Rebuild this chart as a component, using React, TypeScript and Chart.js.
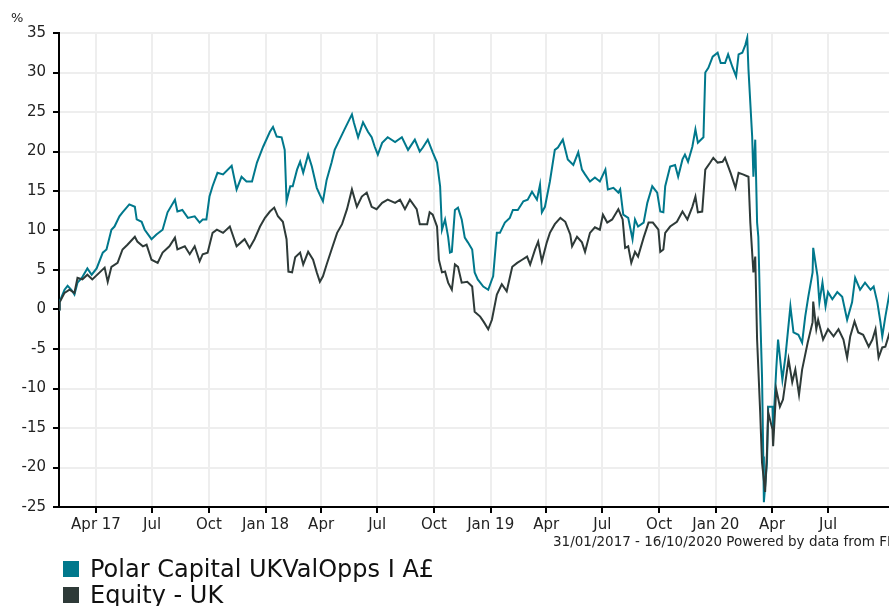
import React, { useEffect, useRef } from "react";
import { Chart, registerables } from "chart.js";

Chart.register(...registerables);

const START_DATE = "2017-01-31";
const END_DATE = "2020-10-16";

const tickDates = [
  "2017-04-01", "2017-07-01", "2017-10-01", "2018-01-01", "2018-04-01", "2018-07-01", "2018-10-01",
  "2019-01-01", "2019-04-01", "2019-07-01", "2019-10-01", "2020-01-01", "2020-04-01", "2020-07-01",
];
const tickLabels = ["Apr 17", "Jul", "Oct", "Jan 18", "Apr", "Jul", "Oct", "Jan 19", "Apr", "Jul", "Oct", "Jan 20", "Apr", "Jul"];

const yTicks = [-25, -20, -15, -10, -5, 0, 5, 10, 15, 20, 25, 30, 35];

const seriesNames = ["Polar Capital UKValOpps I A£", "Equity - UK"];
const seriesColors = ["#00788C", "#2E3A38"];

// days since 31/01/2017
const polarDays = [
  0, 1, 9, 14, 20, 25, 30, 37, 46, 53, 61, 71, 77, 85, 90, 98, 103, 114, 123, 126, 134, 139, 150, 158, 168, 176, 188, 192, 200, 209,
  220, 228, 233, 239, 244, 249, 257, 266, 280, 288, 296, 304, 313, 321, 331, 342, 347, 353, 361, 366, 369, 375, 379, 386, 391, 396,
  404, 410, 418, 423, 428, 434, 442, 447, 455, 463, 475, 478, 485, 493, 501, 507, 512, 517, 524, 533, 545, 556, 566, 577, 585, 590,
  598, 606, 613, 618, 621, 626, 631, 634, 637, 642, 647, 653, 658, 663, 670, 674, 679, 688, 696, 702, 704, 710, 715, 723, 731, 736,
  744, 753, 760, 767, 775, 780, 783, 788, 796, 804, 809, 817, 825, 834, 842, 848, 853, 861, 869, 877, 886, 890, 899, 907, 910, 915,
  923, 930, 934, 939, 948, 954, 962, 970, 975, 980, 983, 991, 999, 1004, 1011, 1015, 1020, 1027, 1032, 1036, 1045, 1048, 1053, 1060,
  1068, 1073, 1080, 1085, 1092, 1098, 1102, 1108, 1113, 1116, 1118, 1124, 1126, 1129, 1132, 1134, 1137, 1140, 1142, 1143, 1148, 1150,
  1157, 1158, 1163, 1166, 1173, 1178, 1186, 1191, 1199, 1205, 1210, 1215, 1222, 1223, 1230, 1233, 1238, 1243, 1247, 1254, 1262, 1270,
  1278, 1286, 1291, 1299, 1307, 1316, 1321, 1327, 1332, 1335, 1340, 1347, 1354,
];
const polarValues = [
  0, 1.0, 2.5, 3.0, 2.5, 1.9, 3.4, 4.0, 5.2, 4.4, 5.2, 7.2, 7.6, 10.1, 10.5, 11.8, 12.3, 13.3, 13.0, 11.4, 11.1, 10.1, 8.9, 9.5, 10.1, 12.3, 13.9, 12.4, 12.6, 11.6,
  11.8, 11.0, 11.4, 11.4, 14.3, 15.6, 17.3, 17.1, 18.2, 15.2, 16.8, 16.2, 16.2, 18.6, 20.6, 22.5, 23.1, 21.9, 21.8, 20.2, 13.7, 15.6, 15.6, 17.7, 18.7, 17.3,
  19.6, 18.1, 15.4, 14.5, 13.7, 16.4, 18.6, 20.2, 21.5, 22.8, 24.7, 23.7, 21.8, 23.7, 22.5, 21.8, 20.6, 19.6, 21.1, 21.8, 21.2, 21.8, 20.2, 21.5, 20.0, 20.5,
  21.5, 19.9, 18.6, 15.6, 10.1, 11.4, 9.2, 7.2, 7.3, 12.6, 12.9, 11.4, 9.1, 8.5, 7.6, 4.7, 3.8, 2.9, 2.5, 3.8, 4.2, 9.7, 9.7, 11.0, 11.6, 12.6,
  12.6, 13.7, 13.9, 14.9, 13.9, 15.8, 12.3, 13.0, 16.2, 20.2, 20.5, 21.5, 19.0, 18.3, 19.9, 17.7, 17.1, 16.2, 16.7, 16.2, 17.7, 15.2, 15.4, 14.8, 15.2, 12.0,
  11.6, 8.9, 11.4, 10.5, 11.0, 13.5, 15.6, 14.8, 12.4, 12.3, 15.6, 18.1, 18.3, 16.8, 19.0, 19.6, 18.7, 20.6, 22.8, 21.1, 21.8, 30.0, 30.6, 32.0,
  32.5, 31.2, 31.2, 32.3, 30.7, 29.5, 32.3, 32.5, 33.5, 34.4, 30.4, 21.9, 16.8, 21.5, 11.0, 9.2, -0.4, -8.5, -18.6, -24.4, -19.4, -12.3,
  -12.3, -15.2, -7.6, -3.8, -8.9, -5.9, 0.4, -2.9, -3.2, -4.2, -0.9, 1.6, 4.7, 7.8, 4.2, 0.9, 3.4, 0.4, 2.2, 1.3, 2.2, 1.6,
  -1.3, 0.9, 4.0, 2.5, 3.4, 2.5, 2.9, 0.9, -1.6, -3.4, -0.9, 2.2, 2.5,
];

const equityDays = [
  0, 1, 9, 17, 25, 30, 38, 46, 54, 66, 74, 79, 85, 95, 103, 111, 123, 127, 136, 142, 150, 160, 168, 179, 188, 192, 204, 212, 220, 228,
  233, 241, 249, 256, 266, 277, 288, 301, 309, 317, 326, 334, 342, 349, 355, 363, 369, 372, 378, 383, 391, 396, 404, 412, 418, 423,
  428, 434, 442, 451, 459, 467, 475, 483, 491, 499, 507, 515, 524, 533, 545, 553, 561, 569, 580, 585, 597, 601, 606, 613, 616, 621,
  626, 631, 637, 642, 647, 653, 662, 670, 674, 683, 689, 696, 702, 710, 718, 726, 735, 743, 751, 759, 764, 772, 777, 783, 791, 796,
  804, 813, 821, 829, 832, 840, 848, 853, 861, 869, 877, 882, 889, 897, 907, 914, 918, 923, 928, 934, 939, 948, 956, 963, 972, 975,
  980, 983, 991, 1002, 1011, 1019, 1027, 1032, 1036, 1043, 1048, 1056, 1061, 1068, 1076, 1080, 1089, 1097, 1102, 1109, 1118, 1121,
  1126, 1129, 1132, 1137, 1140, 1145, 1148, 1150, 1157, 1158, 1163, 1169, 1174, 1183, 1189, 1194, 1200, 1205, 1214, 1222, 1223, 1228,
  1231, 1239, 1247, 1256, 1264, 1272, 1278, 1283, 1290, 1296, 1304, 1313, 1319, 1324, 1329, 1335, 1340, 1347, 1354,
];
const equityValues = [
  0, 0.9, 2.1, 2.5, 2.1, 4.0, 3.8, 4.4, 3.8, 4.7, 5.3, 3.5, 5.4, 5.9, 7.6, 8.2, 9.2, 8.6, 8.0, 8.2, 6.3, 5.9, 7.2, 8.0, 9.1, 7.6, 8.0, 7.0, 8.0, 6.1,
  7.0, 7.2, 9.7, 10.1, 9.7, 10.5, 8.0, 8.9, 7.8, 8.9, 10.5, 11.6, 12.4, 12.9, 11.8, 11.1, 8.9, 4.8, 4.7, 6.6, 7.2, 5.7, 7.3, 6.3, 4.7, 3.5,
  4.2, 5.7, 7.6, 9.7, 10.8, 12.7, 15.2, 13.0, 14.3, 14.8, 13.0, 12.7, 13.5, 13.9, 13.5, 13.9, 12.7, 13.9, 12.7, 10.8, 10.8, 12.3, 12.0, 10.5, 6.3, 4.7,
  4.8, 3.4, 2.5, 5.7, 5.4, 3.4, 3.5, 2.9, -0.3, -0.9, -1.6, -2.5, -1.3, 1.9, 3.2, 2.3, 5.4, 5.9, 6.3, 6.7, 5.7, 7.6, 8.6, 6.1, 8.5, 9.7,
  10.8, 11.6, 11.1, 9.5, 8.0, 9.2, 8.5, 7.3, 9.7, 10.4, 10.1, 12.0, 11.0, 11.4, 12.7, 11.4, 7.8, 8.0, 5.9, 7.3, 6.7, 9.1, 11.0, 11.0, 10.1, 7.3,
  7.6, 9.7, 10.5, 11.1, 12.4, 11.4, 13.0, 14.3, 12.3, 12.4, 17.7, 18.6, 19.2, 18.6, 18.7, 19.2, 17.3, 15.4, 17.3, 17.1, 16.8, 11.0,
  4.7, 6.7, -3.8, -13.0, -19.4, -23.1, -18.1, -13.0, -15.2, -17.3, -10.1, -12.3, -11.4, -6.3, -9.2, -7.6, -10.8, -7.6, -4.2, -1.6, 1.0, -2.5,
  -1.3, -3.8, -2.5, -3.4, -2.5, -3.8, -6.1, -3.4, -1.5, -2.9, -3.2, -4.7, -3.8, -2.5, -6.1, -4.8, -4.7, -2.9, -2.5,
];

const DAY_MS = 86400000;
const dayOf = (s: string) => (Date.parse(s) - Date.parse(START_DATE)) / DAY_MS;
const tickDays = tickDates.map(dayOf);
const maxDay = dayOf(END_DATE);

const FONT = '"DejaVu Sans", Verdana, sans-serif';

export default function App() {
  const ref = useRef<HTMLCanvasElement | null>(null);

  useEffect(() => {
    if (!ref.current) return;
    const chart = new Chart(ref.current, {
      type: "line",
      data: {
        datasets: [
          {
            label: seriesNames[0],
            data: polarDays.map((d, i) => ({ x: d, y: polarValues[i] })),
            borderColor: seriesColors[0],
            backgroundColor: seriesColors[0],
            borderWidth: 2,
            pointRadius: 0,
            tension: 0,
            order: 2,
          },
          {
            label: seriesNames[1],
            data: equityDays.map((d, i) => ({ x: d, y: equityValues[i] })),
            borderColor: seriesColors[1],
            backgroundColor: seriesColors[1],
            borderWidth: 2,
            pointRadius: 0,
            tension: 0,
            order: 1,
          },
        ],
      },
      options: {
        animation: false,
        responsive: false,
        devicePixelRatio: 1,
        layout: { padding: { top: 33, right: 11, left: 0, bottom: 0 } },
        plugins: { legend: { display: false }, tooltip: { enabled: false } },
        scales: {
          x: {
            type: "linear",
            min: 0,
            max: maxDay,
            afterBuildTicks: (s: any) => {
              s.ticks = tickDays.map((v) => ({ value: v }));
            },
            afterFit: (s: any) => {
              s.height = 99;
            },
            ticks: {
              autoSkip: false,
              maxRotation: 0,
              color: "#222",
              padding: 3,
              font: { family: FONT, size: 15 },
              callback: (v: any) => {
                const i = tickDays.indexOf(Number(v));
                return i >= 0 ? tickLabels[i] : "";
              },
            },
            grid: { color: "#eeeeee", lineWidth: 2, tickColor: "#000", tickLength: 6, tickWidth: 2 },
            border: { color: "#000", width: 2 },
          },
          y: {
            min: -25,
            max: 35,
            afterBuildTicks: (s: any) => {
              s.ticks = yTicks.map((v) => ({ value: v }));
            },
            afterFit: (s: any) => {
              s.width = 59;
            },
            ticks: { color: "#222", padding: 7, font: { family: FONT, size: 15 } },
            grid: { color: "#eeeeee", lineWidth: 2, tickColor: "#000", tickLength: 6, tickWidth: 2 },
            border: { color: "#000", width: 2 },
          },
        },
      },
    } as any);
    return () => chart.destroy();
  }, []);

  return (
    <div
      style={{
        position: "fixed",
        left: 0,
        top: 0,
        width: 889,
        height: 606,
        overflow: "hidden",
        background: "#fff",
        fontFamily: FONT,
        color: "#222",
      }}
    >
      <canvas ref={ref} width={905} height={606} style={{ position: "absolute", left: 0, top: 0 }} />
      <div style={{ position: "absolute", left: 11, top: 10, fontSize: 13, lineHeight: "16px" }}>%</div>
      <div style={{ position: "absolute", left: 553, top: 533, fontSize: 13.5, lineHeight: "16px", whiteSpace: "nowrap" }}>
        31/01/2017 - 16/10/2020 Powered by data from FE
      </div>
      {seriesNames.map((name, i) => (
        <div
          key={name}
          style={{ position: "absolute", left: 63, top: 556 + i * 26, height: 26, display: "flex", alignItems: "center", whiteSpace: "nowrap" }}
        >
          <span style={{ display: "inline-block", width: 16, height: 16, background: seriesColors[i], marginRight: 11 }} />
          <span style={{ fontSize: 24, lineHeight: "26px", color: "#111" }}>{name}</span>
        </div>
      ))}
    </div>
  );
}
